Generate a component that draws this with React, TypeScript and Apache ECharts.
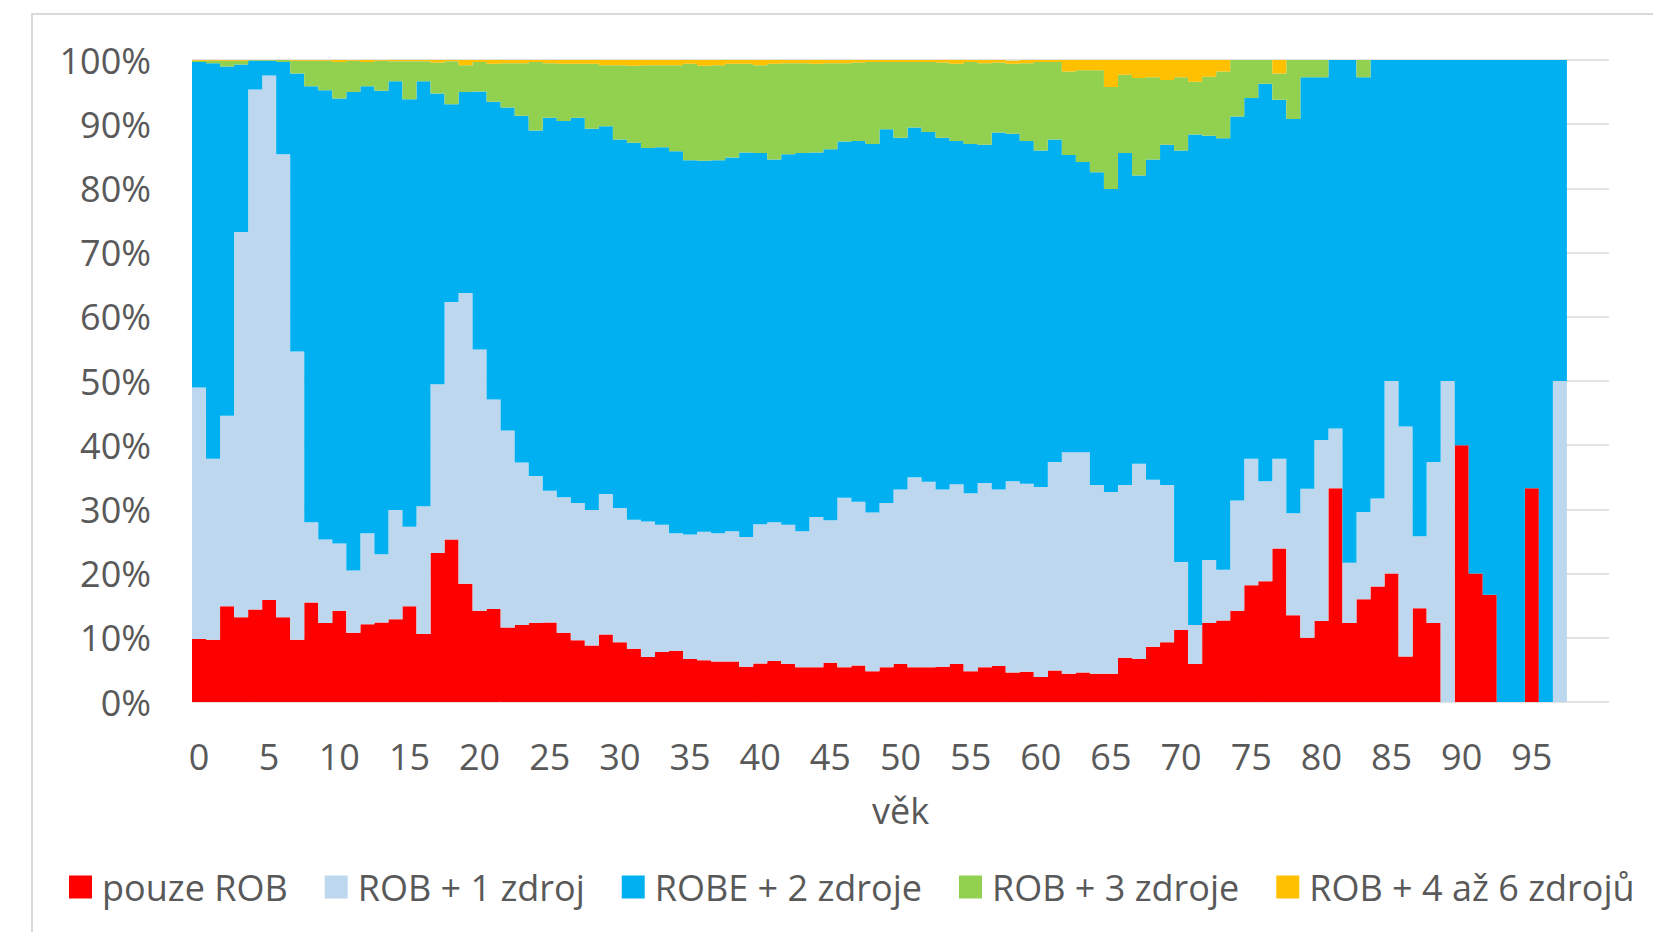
import React, { useEffect, useRef } from "react";
import * as echarts from "echarts";

const ages = [
  "0","1","2","3","4","5","6","7","8","9","10","11","12","13","14","15","16","17","18","19",
  "20","21","22","23","24","25","26","27","28","29","30","31","32","33","34","35","36","37","38","39",
  "40","41","42","43","44","45","46","47","48","49","50","51","52","53","54","55","56","57","58","59",
  "60","61","62","63","64","65","66","67","68","69","70","71","72","73","74","75","76","77","78","79",
  "80","81","82","83","84","85","86","87","88","89","90","91","92","93","94","95","96","97","98","99","100",
];

const yTicks = [0, 10, 20, 30, 40, 50, 60, 70, 80, 90, 100];

const seriesNames = [
  "pouze ROB",
  "ROB + 1 zdroj",
  "ROBE + 2 zdroje",
  "ROB + 3 zdroje",
  "ROB + 4 až 6 zdrojů",
];

const seriesColors = ["#FF0000", "#BDD7EE", "#00B0F0", "#92D050", "#FFC000"];

const pouzeROB = [
  9.8, 9.7, 14.9, 13.2, 14.4, 15.9, 13.2, 9.7, 15.5, 12.3,
  14.2, 10.8, 12.1, 12.4, 12.9, 14.9, 10.6, 23.2, 25.3, 18.4,
  14.2, 14.5, 11.6, 12.0, 12.3, 12.4, 10.8, 9.6, 8.8, 10.5,
  9.3, 8.3, 7.0, 7.8, 8.0, 6.7, 6.5, 6.3, 6.3, 5.5,
  6.0, 6.4, 5.9, 5.4, 5.4, 6.1, 5.4, 5.7, 4.8, 5.4,
  5.9, 5.4, 5.4, 5.5, 5.9, 4.8, 5.4, 5.6, 4.6, 4.7,
  3.9, 4.9, 4.4, 4.6, 4.4, 4.4, 6.9, 6.7, 8.6, 9.3,
  11.2, 5.9, 12.3, 12.7, 14.2, 18.2, 18.8, 23.9, 13.5, 10.0,
  12.6, 33.3, 12.3, 16.0, 18.0, 20.0, 7.1, 14.6, 12.3, 0,
  40.0, 20.0, 16.7, 0, 0, 33.3, 0, 0,
];

const rob1 = [
  39.2, 28.2, 29.7, 60.0, 81.0, 81.7, 72.1, 44.9, 12.5, 13.0,
  10.5, 9.7, 14.2, 10.6, 17.0, 12.4, 19.9, 26.3, 37.0, 45.3,
  40.7, 32.6, 30.7, 25.3, 22.9, 20.5, 21.1, 21.4, 21.1, 21.9,
  20.9, 20.1, 21.1, 19.8, 18.3, 19.4, 20.0, 20.0, 20.3, 20.2,
  21.7, 21.6, 21.7, 21.2, 23.4, 22.2, 26.4, 25.5, 24.7, 25.6,
  27.2, 29.6, 28.9, 27.6, 28.0, 27.7, 28.7, 27.5, 29.8, 29.3,
  29.6, 32.5, 34.5, 34.3, 29.4, 28.3, 26.9, 30.4, 26.0, 24.5,
  10.6, 6.1, 9.8, 7.9, 17.2, 19.7, 15.6, 14.0, 15.9, 23.2,
  28.2, 9.3, 9.4, 13.6, 13.7, 30.0, 35.8, 11.2, 25.1, 50.0,
  0, 0, 0, 0, 0, 0, 0, 50.0,
];

const robe2 = [
  50.7, 61.6, 54.4, 26.1, 4.5, 2.3, 14.4, 43.3, 67.9, 70.0,
  69.3, 74.5, 69.6, 72.2, 66.8, 66.6, 66.2, 45.3, 30.8, 31.3,
  40.2, 46.4, 50.3, 54.0, 53.8, 58.1, 58.6, 60.0, 59.4, 57.3,
  57.4, 58.7, 58.2, 58.8, 59.5, 58.3, 57.8, 58.1, 58.2, 59.9,
  57.8, 56.5, 57.7, 58.9, 56.8, 57.8, 55.5, 56.2, 57.4, 58.2,
  54.8, 54.5, 54.5, 54.8, 53.5, 54.4, 52.7, 55.6, 54.1, 53.4,
  52.4, 50.2, 46.3, 45.2, 48.7, 47.2, 51.7, 44.9, 49.9, 53.0,
  64.1, 76.4, 66.1, 67.2, 59.8, 56.2, 61.9, 55.9, 61.4, 64.1,
  56.5, 57.4, 78.3, 67.7, 68.3, 50.0, 57.1, 74.2, 62.6, 50.0,
  60.0, 80.0, 83.3, 100, 100, 66.7, 100, 50.0,
];

const rob3 = [
  0.2, 0.4, 0.9, 0.6, 0.1, 0.1, 0.3, 2.0, 4.0, 4.6,
  5.7, 4.9, 3.8, 4.7, 3.1, 5.9, 3.1, 4.8, 6.7, 4.2,
  4.6, 5.9, 6.9, 8.2, 10.7, 8.5, 8.9, 8.4, 10.1, 9.5,
  11.6, 12.0, 12.9, 12.8, 13.4, 15.0, 14.8, 14.8, 14.6, 13.8,
  13.7, 14.9, 14.2, 14.0, 13.8, 13.4, 12.2, 12.2, 12.8, 10.5,
  11.8, 10.2, 10.9, 11.7, 12.0, 12.8, 12.7, 10.9, 10.9, 12.1,
  13.8, 12.1, 13.0, 14.3, 15.9, 15.9, 12.2, 15.2, 12.8, 10.1,
  11.4, 8.2, 9.2, 10.4, 8.8, 5.9, 3.7, 4.1, 9.2, 2.7,
  2.7, 0, 0, 2.7, 0, 0, 0, 0, 0, 0,
  0, 0, 0, 0, 0, 0, 0, 0,
];

const rob4to6 = [
  0.1, 0.1, 0.1, 0.1, 0, 0, 0, 0.1, 0.1, 0.1,
  0.3, 0.1, 0.3, 0.1, 0.2, 0.2, 0.2, 0.4, 0.2, 0.8,
  0.3, 0.6, 0.5, 0.5, 0.3, 0.5, 0.6, 0.6, 0.6, 0.8,
  0.8, 0.9, 0.8, 0.8, 0.8, 0.6, 0.9, 0.8, 0.6, 0.6,
  0.8, 0.6, 0.5, 0.5, 0.6, 0.5, 0.5, 0.4, 0.3, 0.3,
  0.3, 0.3, 0.3, 0.4, 0.6, 0.3, 0.5, 0.4, 0.5, 0.5,
  0.3, 0.3, 1.8, 1.6, 1.6, 4.2, 2.3, 2.8, 2.7, 3.1,
  2.7, 3.4, 2.6, 1.8, 0, 0, 0, 2.1, 0, 0,
  0, 0, 0, 0, 0, 0, 0, 0, 0, 0,
  0, 0, 0, 0, 0, 0, 0, 0,
];

const seriesData = [pouzeROB, rob1, robe2, rob3, rob4to6];

const FONT = "'Open Sans', 'Liberation Sans', sans-serif";
const TEXT_COLOR = "#595959";

export default function App() {
  const ref = useRef<HTMLDivElement>(null);

  useEffect(() => {
    if (!ref.current) return;
    const chart = echarts.init(ref.current, null, { renderer: "svg" });
    const option: any = {
      animation: false,
      backgroundColor: "#ffffff",
      textStyle: { fontFamily: FONT },
      graphic: [
        {
          type: "rect",
          shape: { x: 32, y: 14, width: 1700, height: 1000 },
          style: { fill: "none", stroke: "#d9d9d9", lineWidth: 2 },
          silent: true,
        },
      ],
      grid: { left: 192, right: 44, top: 60, bottom: 230, containLabel: false },
      legend: {
        left: 64,
        top: 864,
        itemWidth: 23,
        itemHeight: 23,
        itemGap: 37,
        icon: "rect",
        data: seriesNames,
        textStyle: {
          fontFamily: FONT,
          fontSize: 36,
          color: TEXT_COLOR,
          padding: [0, 0, 0, 5],
        },
      },
      xAxis: {
        type: "category",
        data: ages,
        name: "věk",
        nameLocation: "middle",
        nameGap: 90,
        nameTextStyle: { fontFamily: FONT, fontSize: 36, color: TEXT_COLOR },
        axisLine: { show: false },
        axisTick: { show: false },
        axisLabel: {
          interval: (index: number) => index % 5 === 0 && index <= 95,
          fontFamily: FONT,
          fontSize: 36,
          color: TEXT_COLOR,
          margin: 36,
        },
        splitLine: { show: false },
      },
      yAxis: {
        type: "value",
        min: yTicks[0],
        max: yTicks[yTicks.length - 1],
        interval: 10,
        axisLine: { show: false },
        axisTick: { show: false },
        axisLabel: {
          formatter: "{value}%",
          fontFamily: FONT,
          fontSize: 36,
          color: TEXT_COLOR,
          margin: 41,
        },
        splitLine: { show: true, lineStyle: { color: "#d9d9d9", width: 1.5 } },
      },
      series: seriesNames.map((name, i) => ({
        name,
        type: "bar",
        stack: "total",
        large: true,
        largeThreshold: 10,
        barCategoryGap: "0%",
        barGap: "0%",
        itemStyle: { color: seriesColors[i] },
        emphasis: { disabled: true },
        data: seriesData[i],
      })),
    };
    chart.setOption(option);
    return () => chart.dispose();
  }, []);

  return (
    <div
      ref={ref}
      style={{
        position: "fixed",
        left: 0,
        top: 0,
        width: 1653,
        height: 932,
        background: "#ffffff",
      }}
    />
  );
}
